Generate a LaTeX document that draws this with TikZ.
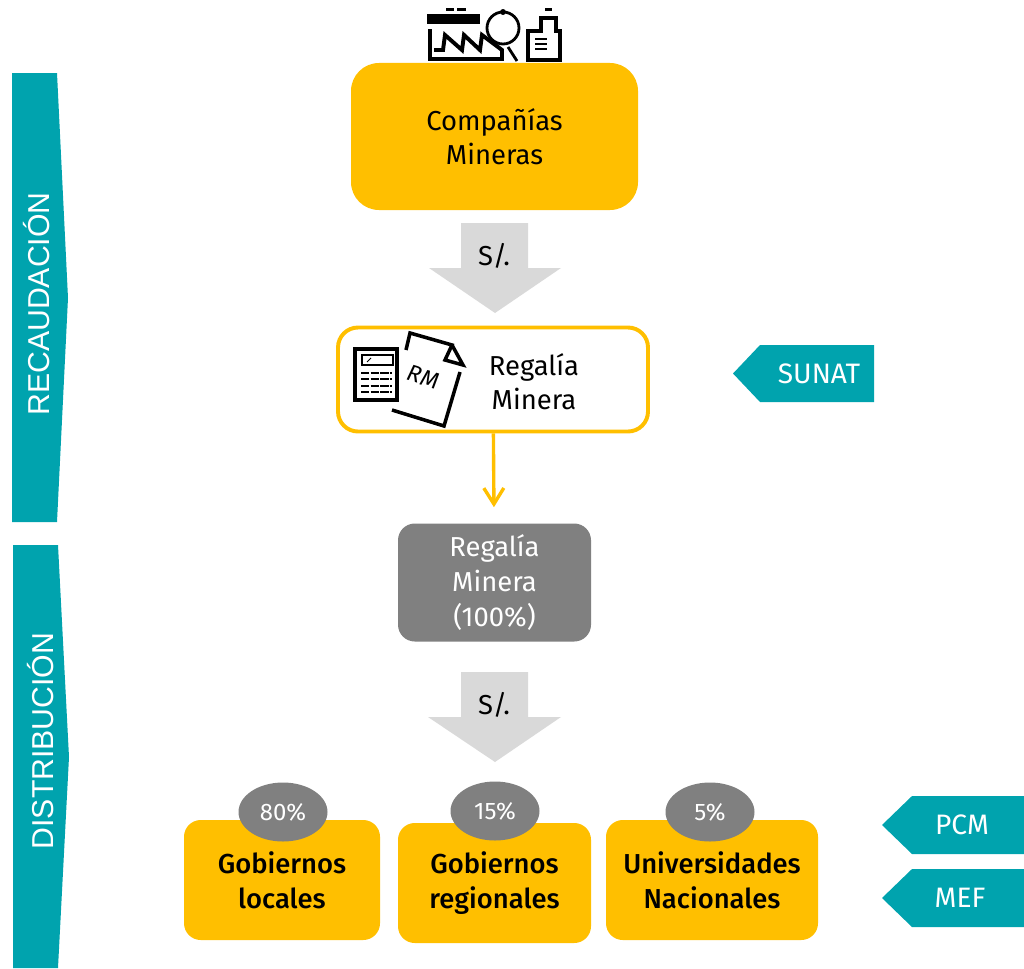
\documentclass[tikz,border=0pt]{standalone}
\usepackage{fontspec}
\setmainfont{Fira Sans}[BoldFont={Fira Sans Medium}]
\newfontfamily\barfont{Liberation Sans}
\usetikzlibrary{arrows.meta, shapes.geometric}
\definecolor{tealbar}{HTML}{00A3AE}
\definecolor{minegold}{HTML}{FFBF00}
\definecolor{slate}{HTML}{808080}
\definecolor{pale}{HTML}{D9D9D9}
\tikzset{
	factory/.pic = {
		\fill (427, 14) rectangle (480, 24);
		\fill (446, 8) rectangle (454, 11);
		\fill (457, 8) rectangle (466, 11);
		\draw [line width=2.8pt, line join=miter] (430, 29) -- (430, 59) -- (502, 59) -- (502, 50)
		      -- (482, 35) -- (480, 50) -- (464, 35) -- (462, 50) -- (445, 35) -- (443, 50) -- (434, 50);
		\draw [line width=2pt] (503, 28) circle (16);
		\fill (503, 12) circle (3);
		\draw [line width=2pt] (508, 47) -- (517, 61);
		\fill (545, 8) rectangle (552, 11);
		\draw [line width=2.8pt, line join=miter] (528, 60) -- (528, 31) -- (541, 31) -- (541, 18)
		      -- (556, 18) -- (556, 31) -- (560, 31) -- (560, 60) -- cycle;
		\foreach \y in {39, 44, 49}
		{
			\draw [line width=1.5pt] (535, \y) -- ++(12, 0);
		}
	},
	calculator/.pic = {
		\draw [line width=2.8pt, fill=white] (355, 349) rectangle (397, 400);
		\draw [line width=1.1pt] (362, 355) rectangle (393, 365);
		\draw [line width=0.6pt] (367, 362) -- ++(4, -4);
		\foreach \y in {373, 379, 386, 392}
		{
			\draw [line width=1.3pt, dash pattern=on 6pt off 0.8pt] (361, \y) -- ++(31, 0);
		}
	},
	document/.pic = {
		\draw [line width=2.5pt] (406, 350) -- (410, 333) -- (452, 345) -- (445, 360) -- (463, 365) -- (452, 345);
		\draw [line width=2.5pt] (460, 372) -- (444, 426) -- (392, 410);
	},
	sidebar/.style = {fill=tealbar},
	tagshape/.style = {fill=tealbar},
	goldbox/.style = {
		fill=minegold, rounded corners=4.2mm, inner sep=0pt, align=center,
		font=\fontsize{19.5}{25}\selectfont\bfseries,
	},
	share/.style = {
		fill=slate, ellipse, inner sep=0pt, text=white,
		minimum width=22.25mm, minimum height=14.75mm, font=\fontsize{17}{19}\selectfont,
	},
	sidelabel/.style = {text=white, rotate=90, font=\fontsize{21.5}{24}\selectfont\barfont},
	taglabel/.style = {text=white, font=\fontsize{20}{22}\selectfont},
	bigtext/.style = {align=center, font=\fontsize{19.5}{24}\selectfont},
}

\begin{document}
\begin{tikzpicture}[x=0.25mm, y=-0.25mm]
	\useasboundingbox (0, 0) rectangle (1024, 968);
	% side bars
	\fill [sidebar] (12, 73) -- (57, 73) -- (68, 298) -- (57, 522) -- (12, 522) -- cycle;
	\node [sidelabel] (recaudacion) at (37, 304) {RECAUDACIÓN};
	\fill [sidebar] (13, 545) -- (58, 545) -- (69, 757) -- (58, 968) -- (13, 968) -- cycle;
	\node [sidelabel] (distribucion) at (41, 741) {DISTRIBUCIÓN};
	% top part
	\pic at (0, 0) {factory};
	\node [bigtext, fill=minegold, rounded corners=7mm, inner sep=0pt,
		minimum width=71.75mm, minimum height=36.75mm] (companias) at (494.5, 136.5) {Compañías\\Mineras};
	\fill [pale] (461, 223) -- (528, 223) -- (528, 268) -- (561, 268) -- (495, 313) -- (429, 268) -- (461, 268) -- cycle;
	\node [bigtext] (soles1) at (494, 256) {S/.};
	\node [draw=minegold, line width=2.8pt, rounded corners=5mm, inner sep=0pt,
		minimum width=77.5mm, minimum height=26mm] (regalia) at (493, 379.5) {};
	\pic at (0, 0) {calculator};
	\pic at (0, 0) {document};
	\node [rotate=-17, font=\fontsize{16.5}{18}\selectfont\itshape] (rm) at (423, 377) {RM};
	\node [bigtext] (regaliatext) at (534, 382) {Regalía\\Minera};
	\node [fill=slate, text=white, rounded corners=4.2mm, inner sep=0pt, bigtext,
		font=\fontsize{19.5}{25}\selectfont,
		minimum width=48.25mm, minimum height=29.5mm] (total) at (494.5, 582.5) {Regalía\\Minera\\(100\%)};
	\draw [-{Straight Barb[length=4mm, width=5mm]}, minegold, line width=2.4pt, shorten >=4mm] (regalia) -- (total);
	\fill [pale] (461, 672) -- (528, 672) -- (528, 717) -- (561, 717) -- (495, 762) -- (428, 717) -- (461, 717) -- cycle;
	\node [bigtext] (soles2) at (494, 705) {S/.};
	% receivers
	\node [goldbox, minimum width=49mm, minimum height=30mm] (locales) at (282, 880) {Gobiernos\\locales};
	\node [goldbox, minimum width=48.25mm, minimum height=30mm] (regionales) at (494.5, 883) {Gobiernos\\regionales};
	\node [goldbox, minimum width=53mm, minimum height=30mm] (universidades) at (712, 880) {Universidades\\Nacionales};
	\node [share] (p80) at (283, 812) {80\%};
	\node [share] (p15) at (495, 811) {15\%};
	\node [share] (p5) at (710, 812) {5\%};
	% tags on the right
	\fill [tagshape] (733, 373.5) -- (760, 345) -- (874, 345) -- (874, 402) -- (760, 402) -- cycle;
	\node [taglabel] (sunat) at (819, 374) {SUNAT};
	\fill [tagshape] (882, 825) -- (912, 796) -- (1024, 796) -- (1024, 854) -- (912, 854) -- cycle;
	\node [taglabel] (pcm) at (962, 825) {PCM};
	\fill [tagshape] (882, 898) -- (912, 869) -- (1024, 869) -- (1024, 927) -- (912, 927) -- cycle;
	\node [taglabel] (mef) at (960, 898) {MEF};
\end{tikzpicture}
\end{document}
